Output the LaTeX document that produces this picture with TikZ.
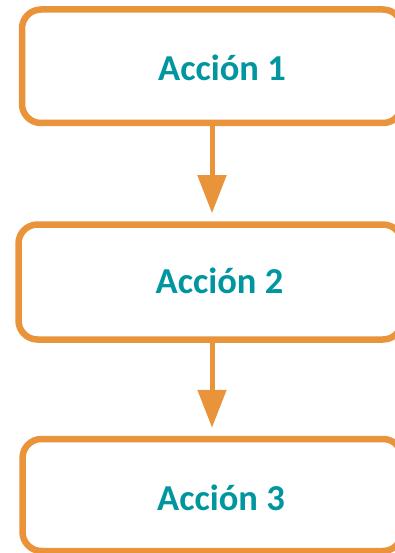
\documentclass[tikz,border=0pt]{standalone}
\usepackage{fontspec}
\setmainfont{Carlito}
\usetikzlibrary{arrows.meta}
\definecolor{boxorange}{RGB}{233,148,58}
\definecolor{textteal}{RGB}{0,150,160}
\tikzset{
  actbox/.style={draw=boxorange, line width=6.5pt, rounded corners=19pt, fill=white, inner sep=0pt},
  acttext/.style={text=textteal, font=\fontsize{36.5}{40}\selectfont\bfseries, anchor=base, inner sep=0pt},
  flowarrow/.style={draw=boxorange, line width=5pt, -{Triangle[width=28pt,length=38pt]}, shorten >=8pt}
}
\begin{document}
\begin{tikzpicture}[x=1pt,y=-1pt]
\useasboundingbox (0,0) rectangle (395,553);
\begin{scope}
\clip (0,0) rectangle (395,553);
\node[actbox, minimum width=380pt, minimum height=113.5pt] (b1) at (212,66.25) {};
\node[actbox, minimum width=383.5pt, minimum height=115pt] (b2) at (210.25,282) {};
\node[actbox, minimum width=379.5pt, minimum height=112pt] (b3) at (212.25,495) {};
\end{scope}
\node[acttext] (t1) at (222,81) {Acción 1};
\node[acttext] (t2) at (219.5,293.5) {Acción 2};
\node[acttext] (t3) at (221,510.7) {Acción 3};
\draw[flowarrow] (b1.south) -- ([xshift=1.75pt]b2.north);
\draw[flowarrow] ([xshift=1.75pt]b2.south) -- ([xshift=-0.25pt]b3.north);
\end{tikzpicture}
\end{document}
